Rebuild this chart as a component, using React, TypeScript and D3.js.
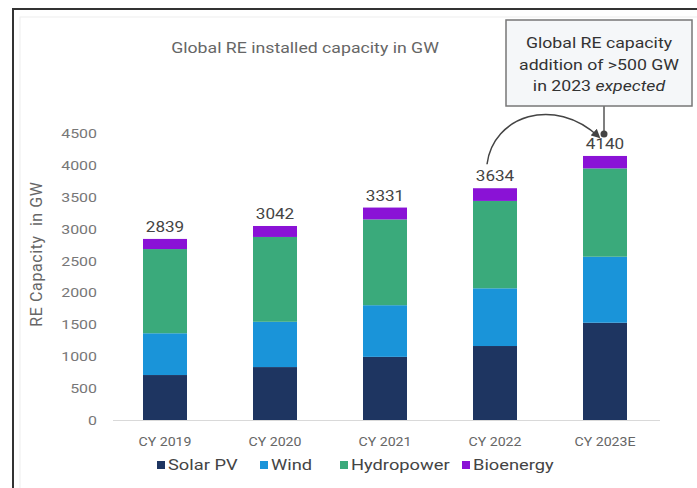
import React from "react";
import * as d3 from "d3";

const categories = ["CY 2019", "CY 2020", "CY 2021", "CY 2022", "CY 2023E"];
const seriesNames = ["Solar PV", "Wind", "Hydropower", "Bioenergy"];
const solarPV = [705, 830, 990, 1160, 1525];
const wind = [655, 710, 810, 905, 1035];
const hydropower = [1320, 1330, 1345, 1370, 1385];
const bioenergy = [159, 172, 186, 199, 195];
const totals = [2839, 3042, 3331, 3634, 4140];
const yTicks = [0, 500, 1000, 1500, 2000, 2500, 3000, 3500, 4000, 4500];
const colors = ["#1e3561", "#1a94d9", "#3aaa7b", "#8a12d6"];

const SX = 1.18;

function T(props: { x: number; y: number; anchor?: string; size: number; fill: string; children: any }) {
  return (
    <text
      transform={`translate(${props.x},${props.y}) scale(${SX},1)`}
      textAnchor={props.anchor || "start"}
      fontSize={props.size}
      fill={props.fill}
    >
      {props.children}
    </text>
  );
}

export default function App() {
  const W = 697, H = 488;
  const x = d3.scaleBand<string>().domain(categories).range([110, 660]).paddingInner(0.6).paddingOuter(0.3);
  const y = d3.scaleLinear().domain([0, 4500]).range([420, 133]);
  const rows = categories.map((c, i) => ({
    cat: c,
    "Solar PV": solarPV[i],
    Wind: wind[i],
    Hydropower: hydropower[i],
    Bioenergy: bioenergy[i],
  }));
  const stacked = d3.stack<any>().keys(seriesNames)(rows);
  const bw = x.bandwidth();
  const font = "Roboto, 'Liberation Sans', Arial, sans-serif";

  const c22 = x(categories[3])! + bw / 2;
  const c23 = x(categories[4])! + bw / 2;
  const sx = c22 - 8, sy = y(totals[3]) - 24;
  const dotX = c23 - 1, dotY = y(totals[4]) - 22;
  const ex = dotX - 5, ey = dotY + 3;
  const curve = `M${sx},${sy} C${sx + 6},${sy - 48} ${ex - 45},${ey - 42} ${ex},${ey}`;

  const legendX = [157, 260, 340, 462];

  return (
    <svg width={W} height={H} style={{ position: "absolute", left: 0, top: 0, fontFamily: font }}>
      <defs>
        <marker id="ah" viewBox="0 0 10 10" refX="8" refY="5" markerWidth="6" markerHeight="6" orient="auto">
          <path d="M0,0 L10,5 L0,10 z" fill="#444" />
        </marker>
      </defs>
      <rect x={0} y={0} width={W} height={H} fill="#fff" />
      <rect x={13} y={9} width={W + 10} height={H + 10} fill="none" stroke="#333" strokeWidth={2} />
      <rect x={20} y={17} width={W} height={H} fill="none" stroke="#eee" strokeWidth={1} />

      <T x={305} y={53} anchor="middle" size={15} fill="#666">Global RE installed capacity in GW</T>

      {yTicks.map((t) => (
        <T key={t} x={97} y={y(t) + 5} anchor="end" size={13.5} fill="#777">{t}</T>
      ))}
      <text
        transform={`translate(42,254) rotate(-90)`}
        textAnchor="middle"
        fontSize={16}
        fill="#666"
        style={{ whiteSpace: "pre" }}
        letterSpacing={0.6}
      >
        {"RE Capacity  in GW"}
      </text>

      <line x1={113} x2={660} y1={y(0) + 0.5} y2={y(0) + 0.5} stroke="#d9d9d9" strokeWidth={1} />

      {stacked.map((s, si) => (
        <g key={s.key} fill={colors[si]}>
          {s.map((d, i) => (
            <rect key={i} x={x(categories[i])} y={y(d[1])} width={bw} height={y(d[0]) - y(d[1])} />
          ))}
        </g>
      ))}

      {categories.map((c, i) => (
        <T key={c} x={x(c)! + bw / 2} y={y(totals[i]) - 7} anchor="middle" size={14.5} fill="#444">{totals[i]}</T>
      ))}

      {categories.map((c) => (
        <T key={c} x={x(c)! + bw / 2} y={446} anchor="middle" size={12} fill="#666">{c}</T>
      ))}

      {seriesNames.map((n, i) => (
        <g key={n}>
          <rect x={legendX[i]} y={461} width={8} height={8} fill={colors[i]} />
          <T x={legendX[i] + 11} y={470} size={15.5} fill="#444">{n}</T>
        </g>
      ))}

      <path d={curve} fill="none" stroke="#444" strokeWidth={1.5} markerEnd="url(#ah)" />
      <line x1={dotX} x2={dotX} y1={106} y2={dotY} stroke="#555" strokeWidth={1.5} />
      <circle cx={dotX} cy={dotY} r={3.5} fill="#444" />
      <rect x={506} y={20} width={186} height={86} fill="#f5f7f9" stroke="#777" strokeWidth={1.5} />
      <T x={599} y={48} anchor="middle" size={15} fill="#333">Global RE capacity</T>
      <T x={599} y={70} anchor="middle" size={15} fill="#333">addition of &gt;500 GW</T>
      <T x={599} y={91} anchor="middle" size={15} fill="#333">in 2023 <tspan fontStyle="italic">expected</tspan></T>
    </svg>
  );
}
